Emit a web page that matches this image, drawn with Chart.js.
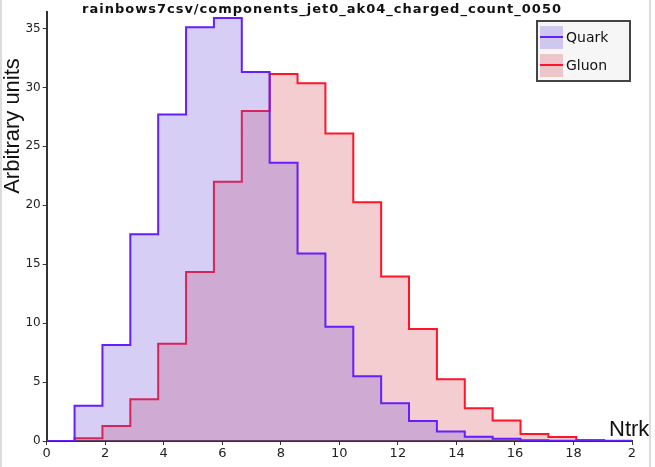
<!DOCTYPE html>
<html>
<head>
<meta charset="utf-8">
<script src="https://cdn.jsdelivr.net/npm/chart.js@4.4.1/dist/chart.umd.min.js"></script>
<style>
  body { margin: 0; background: #fff; }
  #wrap { position: relative; width: 655px; height: 467px; }
  .edge { position: absolute; top: 0; width: 2px; height: 467px; background: #dcdcdc; }
</style>
</head>
<body>
<div id="wrap">
  <canvas id="myChart" width="655" height="467"></canvas>
  <div class="edge" style="left:0"></div>
  <div class="edge" style="left:649px"></div>
</div>
<script>
// histogram: 21 bins spread over Ntrk 0..20
const xMax = 20
const nBins = 21

// bin heights
const quarkValues = [0, 3.0, 8.15, 17.55, 27.7, 35.1, 35.9, 31.3, 23.6, 15.9, 9.7,
  5.5, 3.2, 1.7, 0.8, 0.37, 0.2, 0.06, 0.03, 0, 0]
const gluonValues = [0, 0.23, 1.27, 3.54, 8.26, 14.35, 22.0, 28.0, 31.15, 30.36, 26.1,
  20.26, 13.95, 9.5, 5.24, 2.77, 1.73, 0.6, 0.34, 0.08, 0.03]

const xTickLabels = ['0', '2', '4', '6', '8', '10', '12', '14', '16', '18', '2']
const yTickStep = 5
const yMax = 36.4

const COLORS = {
  quarkLine: 'rgb(100, 30, 255)',
  quarkFill: 'rgba(110, 80, 220, 0.28)',
  gluonLine: 'rgb(255, 20, 40)',
  gluonFill: 'rgba(215, 70, 80, 0.27)'
}

//turn bin heights into stepped points (value i spans edge i .. edge i+1)
function stepPoints(values) {
  let pts = []
  let w = xMax / nBins
  for (let i = 0; i < values.length; i++) {
    pts.push({x: i * w, y: values[i]})
  }
  pts.push({x: xMax, y: values[values.length - 1]})
  return pts
}

//text + legend drawn on top
const overlay = {
  id: 'overlay',
  afterDraw(chart) {
    const ctx = chart.ctx
    ctx.save()
    ctx.fillStyle = '#111'
    ctx.textBaseline = 'alphabetic'

    //title
    ctx.font = 'bold 13px "DejaVu Sans"'
    ctx.letterSpacing = '1px'
    ctx.textAlign = 'center'
    ctx.fillText('rainbows7csv/components_jet0_ak04_charged_count_0050', 322, 13)
    ctx.letterSpacing = '0px'

    //y title
    ctx.save()
    ctx.translate(19, 126)
    ctx.rotate(-Math.PI / 2)
    ctx.font = '22px "Liberation Sans"'
    ctx.fillText('Arbitrary units', 0, 0)
    ctx.restore()

    //x title
    ctx.font = '22px "Liberation Sans"'
    ctx.textAlign = 'left'
    ctx.fillText('Ntrk', 609, 436)

    //legend box
    ctx.fillStyle = '#f6f6f6'
    ctx.fillRect(537, 21, 93, 60)
    ctx.strokeStyle = '#444'
    ctx.lineWidth = 2
    ctx.strokeRect(537, 21, 93, 60)

    const entries = [
      {label: 'Quark', line: COLORS.quarkLine, fill: COLORS.quarkFill, y: 37},
      {label: 'Gluon', line: COLORS.gluonLine, fill: COLORS.gluonFill, y: 65}
    ]
    ctx.font = '14px "DejaVu Sans"'
    ctx.textBaseline = 'middle'
    entries.forEach(e => {
      ctx.fillStyle = e.fill
      ctx.fillRect(540, e.y - 11, 23, 23)
      ctx.strokeStyle = e.line
      ctx.lineWidth = 2
      ctx.beginPath()
      ctx.moveTo(540, e.y)
      ctx.lineTo(563, e.y)
      ctx.stroke()
      ctx.fillStyle = '#111'
      ctx.fillText(e.label, 566, e.y + 1)
    })
    ctx.restore()
  }
}

const data = {
  datasets: [
    {
      label: 'Quark',
      data: stepPoints(quarkValues),
      borderColor: COLORS.quarkLine,
      backgroundColor: COLORS.quarkFill,
      borderWidth: 2,
      stepped: 'before',
      fill: 'origin',
      pointRadius: 0
    },
    {
      label: 'Gluon',
      data: stepPoints(gluonValues),
      borderColor: COLORS.gluonLine,
      backgroundColor: COLORS.gluonFill,
      borderWidth: 2,
      stepped: 'before',
      fill: 'origin',
      pointRadius: 0
    }
  ]
}

const config = {
  type: 'line',
  data: data,
  plugins: [overlay],
  options: {
    responsive: false,
    animation: false,
    layout: {
      padding: {left: 0, right: 23, top: 12, bottom: 0}
    },
    plugins: {
      legend: {display: false},
      title: {display: false},
      tooltip: {enabled: false}
    },
    scales: {
      x: {
        type: 'linear',
        min: 0,
        max: xMax,
        afterFit: (axis) => { axis.height = 26 },
        border: {display: true, color: '#333', width: 2},
        grid: {drawOnChartArea: false, drawTicks: true, tickLength: 4, color: '#333'},
        ticks: {
          stepSize: 2,
          autoSkip: false,
          maxRotation: 0,
          padding: 1,
          color: '#222',
          font: {family: 'DejaVu Sans', size: 13},
          callback: (v, i) => xTickLabels[i]
        }
      },
      y: {
        min: 0,
        max: yMax,
        afterFit: (axis) => { axis.width = 46.7 },
        afterBuildTicks: (axis) => {
          axis.ticks = axis.ticks.filter(t => t.value % yTickStep === 0)
        },
        border: {display: true, color: '#333', width: 2},
        grid: {drawOnChartArea: false, drawTicks: true, tickLength: 4, color: '#333'},
        ticks: {
          stepSize: yTickStep,
          padding: 2,
          color: '#222',
          font: {family: 'DejaVu Sans', size: 12}
        }
      }
    }
  }
}

const myChart = new Chart(document.getElementById('myChart'), config)
</script>
</body>
</html>
